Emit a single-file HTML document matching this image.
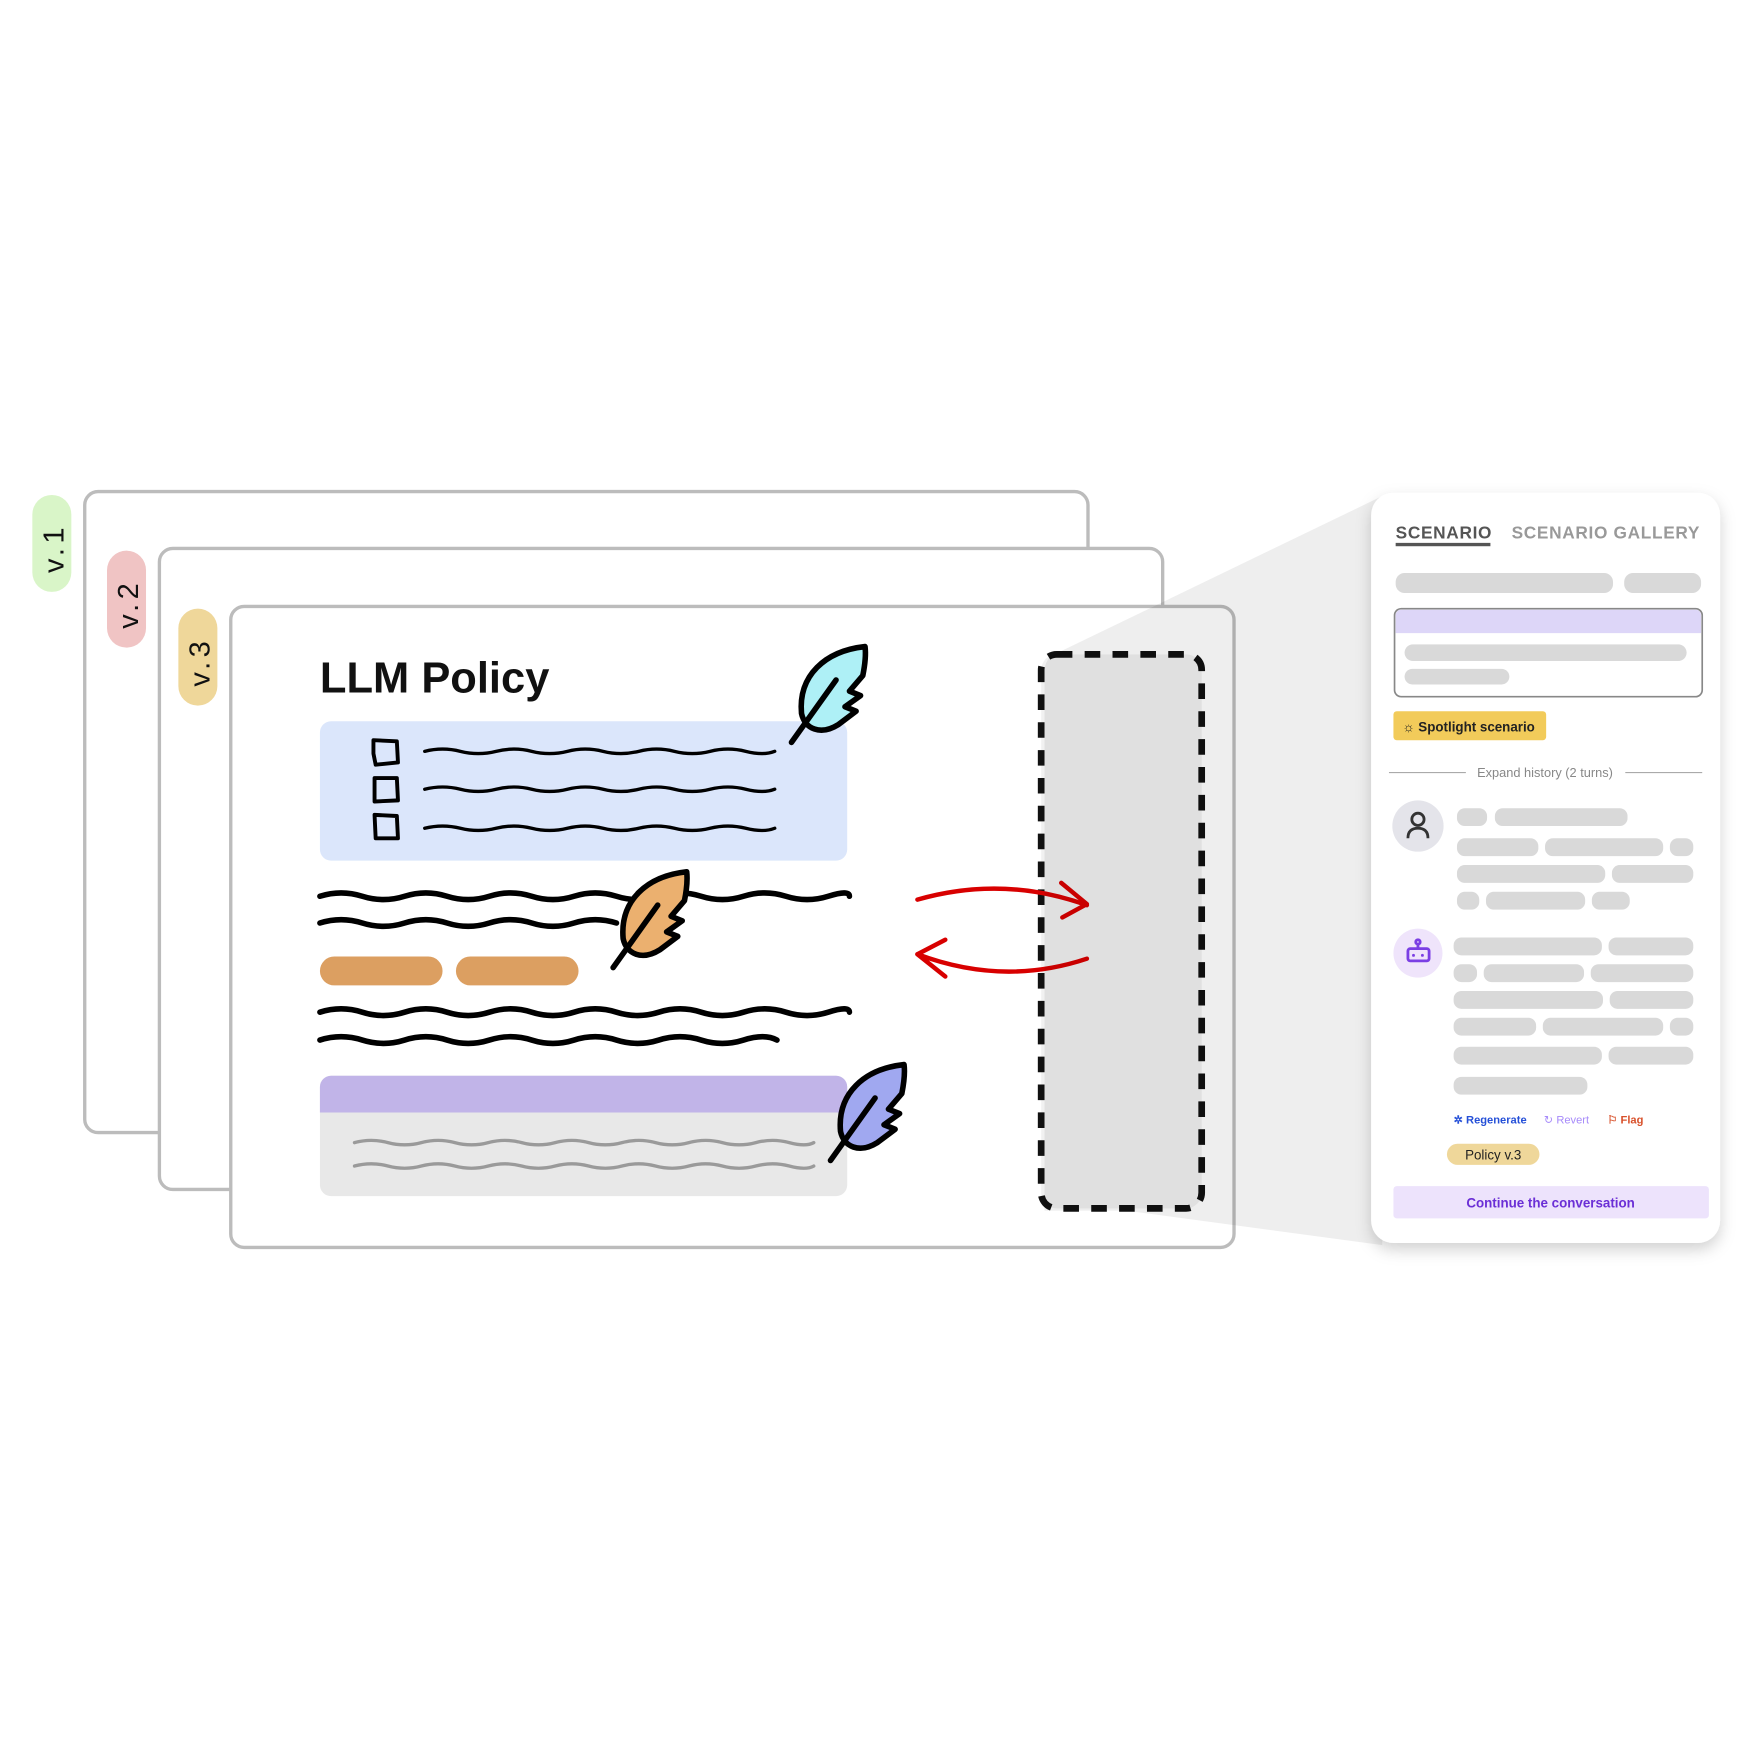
<!DOCTYPE html>
<html><head><meta charset="utf-8"><style>
html,body{margin:0;padding:0;background:#fff;width:1739px;height:1739px;overflow:hidden}
svg{display:block}
text{font-family:"Liberation Sans",sans-serif}
</style></head><body>
<svg width="1739" height="1739" viewBox="0 0 1560 1560" xmlns="http://www.w3.org/2000/svg">
<defs>
<filter id="sh" x="-20%" y="-10%" width="140%" height="130%"><feDropShadow dx="0" dy="6" stdDeviation="7" flood-color="#000" flood-opacity="0.18"/></filter>
<g id="fe">
<path d="M66 2 C30 6 6 28 9 62 C12 76 26 82 42 72 L58 60 L48 56 L62 46 L52 42 L64 28 C66 18 67 10 66 2 Z" stroke="#000" stroke-width="5" stroke-linejoin="round"/>
<path d="M0 88 L40 32" stroke="#000" stroke-width="5" stroke-linecap="round" fill="none"/>
</g>
</defs>
<rect x="76" y="441" width="900" height="575" rx="12" fill="#fff" stroke="#bcbcbc" stroke-width="3"/>
<rect x="29" y="444" width="35" height="87" rx="17.5" fill="#d9f5c8"/>
<text transform="translate(57,514) rotate(-90)" font-size="26" fill="#111" letter-spacing="4">v.1</text>
<rect x="143" y="492" width="900" height="575" rx="12" fill="#fff" stroke="#bcbcbc" stroke-width="3"/>
<rect x="96" y="494" width="35" height="87" rx="17.5" fill="#f0c4c4"/>
<text transform="translate(124,564) rotate(-90)" font-size="26" fill="#111" letter-spacing="4">v.2</text>
<rect x="207" y="544" width="900" height="575" rx="12" fill="#fff" stroke="#bcbcbc" stroke-width="3"/>
<rect x="160" y="546" width="35" height="87" rx="17.5" fill="#efd79a"/>
<text transform="translate(188,616) rotate(-90)" font-size="26" fill="#111" letter-spacing="4">v.3</text>
<text x="287" y="621" font-size="39" font-weight="bold" fill="#111">LLM Policy</text>
<rect x="287" y="647" width="473" height="125" rx="10" fill="#dbe6fb"/>
<g fill="none" stroke="#000" stroke-width="3.5" stroke-linejoin="round">
<path d="M335 664 L356 665 L357 684 L337 686 L335 676 Z"/>
<path d="M336 698 L356 698 L357 718 L336 719 Z"/>
<path d="M336 731 L356 732 L357 752 L337 752 Z"/>
</g>
<g fill="none" stroke="#000" stroke-width="3" stroke-linecap="round">
<path d="M381 674 q16 -4 32 0 t32 0 t32 0 t32 0 t32 0 t32 0 t32 0 t32 0 t32 0 t26 0"/>
<path d="M381 708 q16 -4 32 0 t32 0 t32 0 t32 0 t32 0 t32 0 t32 0 t32 0 t32 0 t26 0"/>
<path d="M381 743 q16 -4 32 0 t32 0 t32 0 t32 0 t32 0 t32 0 t32 0 t32 0 t32 0 t26 0"/>
</g>
<g fill="none" stroke="#000" stroke-width="5" stroke-linecap="round">
<path d="M287 804 q19 -6 38 0 t38 0 t38 0 t38 0 t38 0 t38 0 t38 0 t38 0 t38 0 t38 0 t38 0 t38 0 t19 0"/>
<path d="M287 828 q19 -6 38 0 t38 0 t38 0 t38 0 t38 0 t38 0 t38 0"/>
<path d="M287 908 q19 -6 38 0 t38 0 t38 0 t38 0 t38 0 t38 0 t38 0 t38 0 t38 0 t38 0 t38 0 t38 0 t19 0"/>
<path d="M287 933 q19 -6 38 0 t38 0 t38 0 t38 0 t38 0 t38 0 t38 0 t38 0 t38 0 t38 0 t30 0"/>
</g>
<rect x="287" y="858" width="110" height="26" rx="13" fill="#dc9f61"/>
<rect x="409" y="858" width="110" height="26" rx="13" fill="#dc9f61"/>
<path d="M297 965 H750 a10 10 0 0 1 10 10 V1063 a10 10 0 0 1 -10 10 H297 a10 10 0 0 1 -10 -10 V975 a10 10 0 0 1 10 -10 Z" fill="#e8e8e8"/>
<path d="M297 965 H750 a10 10 0 0 1 10 10 V998 H287 V975 a10 10 0 0 1 10 -10 Z" fill="#c1b4e8"/>
<g fill="none" stroke="#9a9a9a" stroke-width="3" stroke-linecap="round">
<path d="M318 1025 q15 -4 30 0 t30 0 t30 0 t30 0 t30 0 t30 0 t30 0 t30 0 t30 0 t30 0 t30 0 t30 0 t30 0 t22 0"/>
<path d="M318 1046 q15 -4 30 0 t30 0 t30 0 t30 0 t30 0 t30 0 t30 0 t30 0 t30 0 t30 0 t30 0 t30 0 t30 0 t22 0"/>
</g>
<use href="#fe" x="710" y="578" fill="#aef0f6"/>
<use href="#fe" x="550" y="780" fill="#ebb06f"/>
<use href="#fe" x="745" y="953" fill="#a0a8f0"/>
<rect x="934" y="587" width="144" height="497" rx="14" fill="#f1f1f1" stroke="#111" stroke-width="6" stroke-dasharray="14 11"/>
<g fill="none" stroke="#d80000" stroke-width="4" stroke-linecap="round" stroke-linejoin="round">
<path d="M823 807 Q900 785 975 812"/>
<path d="M952 792 L975 811 L953 823"/>
<path d="M975 860 Q900 885 823 856"/>
<path d="M848 843 L823 856 L848 876"/>
</g>
<path d="M937 600 Q939 588 950 585 L1240 445 L1240 1117 L1010 1086 L937 1086 Z" fill="#000" fill-opacity="0.065"/>
<rect x="1230" y="442" width="313" height="673" rx="20" fill="#fff" filter="url(#sh)"/>
<text x="1252" y="483" font-size="15.5" font-weight="bold" fill="#555" letter-spacing="0.6">SCENARIO</text>
<rect x="1252" y="487" width="85" height="3" fill="#555"/>
<text x="1356" y="483" font-size="15.5" font-weight="bold" fill="#999" letter-spacing="0.6">SCENARIO GALLERY</text>
<g fill="#d9d9d9">
<rect x="1252" y="514" width="195" height="18" rx="8"/>
<rect x="1457" y="514" width="69" height="18" rx="8"/>
</g>
<rect x="1251" y="546" width="276" height="79" rx="6" fill="#fff" stroke="#888" stroke-width="1.5"/>
<path d="M1257 547 H1521 a5 5 0 0 1 5 5 V568 H1252 V552 a5 5 0 0 1 5 -5 Z" fill="#ddd6f8"/>
<rect x="1260" y="578" width="253" height="15" rx="7.5" fill="#d9d9d9"/>
<rect x="1260" y="600" width="94" height="14" rx="7" fill="#d9d9d9"/>
<rect x="1250" y="638" width="137" height="26" rx="3" fill="#f2cb5a"/>
<text x="1258" y="656" font-size="12" font-weight="bold" fill="#222">☼ Spotlight scenario</text>
<line x1="1246" y1="693" x2="1315" y2="693" stroke="#aaa" stroke-width="1"/>
<line x1="1458" y1="693" x2="1527" y2="693" stroke="#aaa" stroke-width="1"/>
<text x="1386" y="697" font-size="11.5" fill="#888" text-anchor="middle">Expand history (2 turns)</text>
<circle cx="1272" cy="741" r="23" fill="#e4e4ea"/>
<circle cx="1272" cy="735" r="5.5" fill="none" stroke="#333" stroke-width="2.5"/>
<path d="M1263 752 q0 -9 9 -9 q9 0 9 9" fill="none" stroke="#333" stroke-width="2.5"/>
<circle cx="1272" cy="855" r="22" fill="#efe4fb"/>
<g fill="none" stroke="#7b3fe4" stroke-width="2.5">
<rect x="1263" y="851" width="19" height="11" rx="2"/>
<line x1="1272" y1="851" x2="1272" y2="847"/>
<circle cx="1272" cy="845" r="2"/>
</g>
<circle cx="1268" cy="857" r="1.3" fill="#7b3fe4"/><circle cx="1276" cy="857" r="1.3" fill="#7b3fe4"/>
<g fill="#d9d9d9">
<rect x="1307" y="725" width="27" height="16" rx="7"/><rect x="1341" y="725" width="119" height="16" rx="7"/>
<rect x="1307" y="752" width="73" height="16" rx="7"/><rect x="1386" y="752" width="106" height="16" rx="7"/><rect x="1498" y="752" width="21" height="16" rx="7"/>
<rect x="1307" y="776" width="133" height="16" rx="7"/><rect x="1446" y="776" width="73" height="16" rx="7"/>
<rect x="1307" y="800" width="20" height="16" rx="7"/><rect x="1333" y="800" width="89" height="16" rx="7"/><rect x="1428" y="800" width="34" height="16" rx="7"/>
<rect x="1304" y="841" width="133" height="16" rx="7"/><rect x="1443" y="841" width="76" height="16" rx="7"/>
<rect x="1304" y="865" width="21" height="16" rx="7"/><rect x="1331" y="865" width="90" height="16" rx="7"/><rect x="1427" y="865" width="92" height="16" rx="7"/>
<rect x="1304" y="889" width="134" height="16" rx="7"/><rect x="1444" y="889" width="75" height="16" rx="7"/>
<rect x="1304" y="913" width="74" height="16" rx="7"/><rect x="1384" y="913" width="108" height="16" rx="7"/><rect x="1498" y="913" width="21" height="16" rx="7"/>
<rect x="1304" y="939" width="133" height="16" rx="7"/><rect x="1443" y="939" width="76" height="16" rx="7"/>
<rect x="1304" y="966" width="120" height="16" rx="7"/>
</g>
<text x="1304" y="1008" font-size="10" font-weight="bold" fill="#2550d8">✲ Regenerate</text>
<text x="1385" y="1008" font-size="10" fill="#a78bfa">↻ Revert</text>
<text x="1442" y="1008" font-size="10" font-weight="bold" fill="#d8502a">⚐ Flag</text>
<rect x="1298" y="1026" width="83" height="19" rx="9.5" fill="#efd79a"/>
<text x="1339.5" y="1040" font-size="12" fill="#222" text-anchor="middle" font-family="Liberation Mono, monospace">Policy v.3</text>
<rect x="1250" y="1064" width="283" height="29" rx="3" fill="#ede3fc"/>
<text x="1391" y="1083" font-size="12" font-weight="bold" fill="#6b2fd6" text-anchor="middle">Continue the conversation</text>
</svg>
</body></html>
